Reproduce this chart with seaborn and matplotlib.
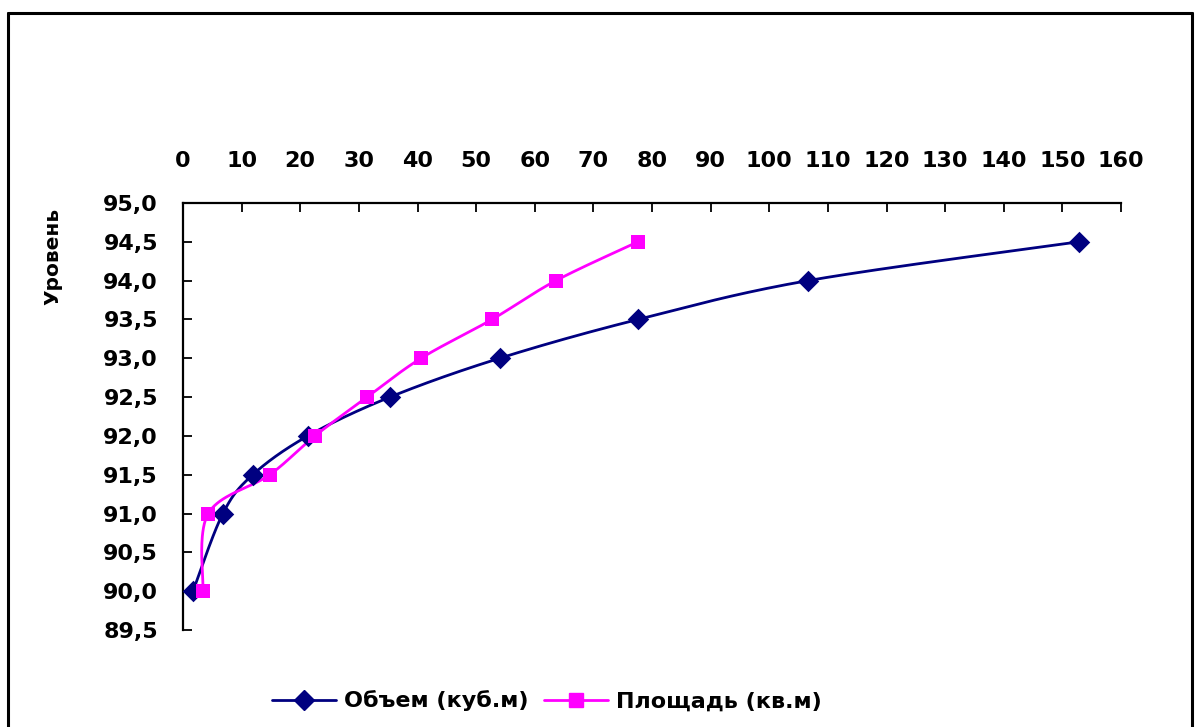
import numpy as np
import matplotlib
matplotlib.use("Agg")
import matplotlib.pyplot as plt
import seaborn as sns
from matplotlib.lines import Line2D
from matplotlib.ticker import FixedLocator, FixedFormatter

# Уровни и соответствующие объём / площадь
levels = [90.0, 91.0, 91.5, 92.0, 92.5, 93.0, 93.5, 94.0, 94.5]
volume = [1.7, 6.8, 11.9, 21.3, 35.3, 54.0, 77.6, 106.6, 152.8]
area = [3.4, 4.3, 14.8, 22.5, 31.4, 40.6, 52.7, 63.6, 77.6]

x_ticks = list(range(0, 161, 10))
y_ticks = [89.5, 90.0, 90.5, 91.0, 91.5, 92.0, 92.5, 93.0, 93.5, 94.0, 94.5, 95.0]
y_tick_labels = [f"{v:.1f}".replace(".", ",") for v in y_ticks]

vol_label = "Объем (куб.м)"
area_label = "Площадь (кв.м)"
y_title = "Уровень"

NAVY = "#000080"
MAGENTA = "#FF00FF"
FONT_SIZE = 16

sns.set_theme(style="white")
plt.rcParams["font.family"] = ["DejaVu Sans"]
plt.rcParams["font.weight"] = "bold"
plt.rcParams["text.color"] = "black"

fig = plt.figure(figsize=(11.96, 7.27), dpi=100)
ax = fig.add_axes([183 / 1196, 1 - 630 / 727, (1121 - 183) / 1196, (630 - 203) / 727])

# pixel-per-unit scale factors, so the smoothing is done in screen space
SX = (1121 - 183) / 160.0
SY = (630 - 203) / 5.5


def smooth_path(xs, ys, n=40):
    """Cubic Bezier smoothing through the points (Catmull-Rom style)."""
    P = np.column_stack([np.asarray(xs) * SX, np.asarray(ys) * SY])
    E = np.vstack([P[0], P, P[-1]])
    segs = []
    last = len(E) - 3
    for i in range(1, len(E) - 2):
        p0, p1, p2, p3 = E[i - 1], E[i], E[i + 1], E[i + 2]
        c1 = p1 + (p2 - p0) / 6.0
        c2 = p2 - (p3 - p1) / 6.0
        t = np.linspace(0, 1, n, endpoint=(i == last))[:, None]
        segs.append((1 - t) ** 3 * p1 + 3 * (1 - t) ** 2 * t * c1
                    + 3 * (1 - t) * t ** 2 * c2 + t ** 3 * p2)
    pts = np.vstack(segs)
    return pts[:, 0] / SX, pts[:, 1] / SY


for xs, color in [(volume, NAVY), (area, MAGENTA)]:
    cx, cy = smooth_path(xs, levels)
    sns.lineplot(x=cx, y=cy, sort=False, estimator=None, color=color,
                 linewidth=2.0, ax=ax, legend=False)

sns.scatterplot(x=volume, y=levels, marker="D", s=120, color=NAVY,
                edgecolor=NAVY, linewidth=0, ax=ax, zorder=5, legend=False)
sns.scatterplot(x=area, y=levels, marker="s", s=105, color=MAGENTA,
                edgecolor=MAGENTA, linewidth=0, ax=ax, zorder=6, legend=False)

ax.set_xlim(0, 160)
ax.set_ylim(89.5, 95.0)
ax.xaxis.tick_top()
ax.xaxis.set_major_locator(FixedLocator(x_ticks))
ax.yaxis.set_major_locator(FixedLocator(y_ticks))
ax.yaxis.set_major_formatter(FixedFormatter(y_tick_labels))
ax.set_xlabel("")
ax.set_ylabel("")

for side in ["bottom", "right"]:
    ax.spines[side].set_visible(False)
for side in ["top", "left"]:
    ax.spines[side].set_visible(True)
    ax.spines[side].set_color("black")
    ax.spines[side].set_linewidth(1.6)

ax.tick_params(axis="x", which="major", direction="in", length=6.5, width=1.3,
               color="black", top=True, bottom=False, labeltop=True,
               labelbottom=False, pad=23, labelsize=FONT_SIZE, labelcolor="black")
ax.tick_params(axis="y", which="major", direction="in", length=6.5, width=1.3,
               color="black", left=True, right=False, pad=18, labelsize=FONT_SIZE,
               labelcolor="black")
for lbl in ax.get_xticklabels() + ax.get_yticklabels():
    lbl.set_fontweight("bold")

fig.text(53 / 1196, 1 - 256 / 727, y_title, rotation=90, ha="center",
         va="center", fontsize=14.5, fontweight="bold", color="black")

handles = [
    Line2D([], [], color=NAVY, linewidth=2.0, marker="D", markersize=10,
           markerfacecolor=NAVY, markeredgecolor=NAVY),
    Line2D([], [], color=MAGENTA, linewidth=2.0, marker="s", markersize=9.5,
           markerfacecolor=MAGENTA, markeredgecolor=MAGENTA),
]
fig.legend(handles, [vol_label, area_label], loc="center",
           bbox_to_anchor=(547 / 1196, 1 - 701 / 727), ncol=2, frameon=False,
           prop={"size": FONT_SIZE, "weight": "bold"}, handlelength=2.9,
           handletextpad=0.36, columnspacing=0.68, labelcolor="black")

# outer chart frame
fig.add_artist(plt.Line2D([8 / 1196, 8 / 1196], [-0.05, 1 - 13 / 727],
                          transform=fig.transFigure, color="black", linewidth=2.2))
fig.add_artist(plt.Line2D([8 / 1196, 1192 / 1196], [1 - 13 / 727, 1 - 13 / 727],
                          transform=fig.transFigure, color="black", linewidth=2.2))
fig.add_artist(plt.Line2D([1192 / 1196, 1192 / 1196], [-0.05, 1 - 13 / 727],
                          transform=fig.transFigure, color="black", linewidth=2.2))

fig.savefig("out.png", dpi=100, facecolor="white")
